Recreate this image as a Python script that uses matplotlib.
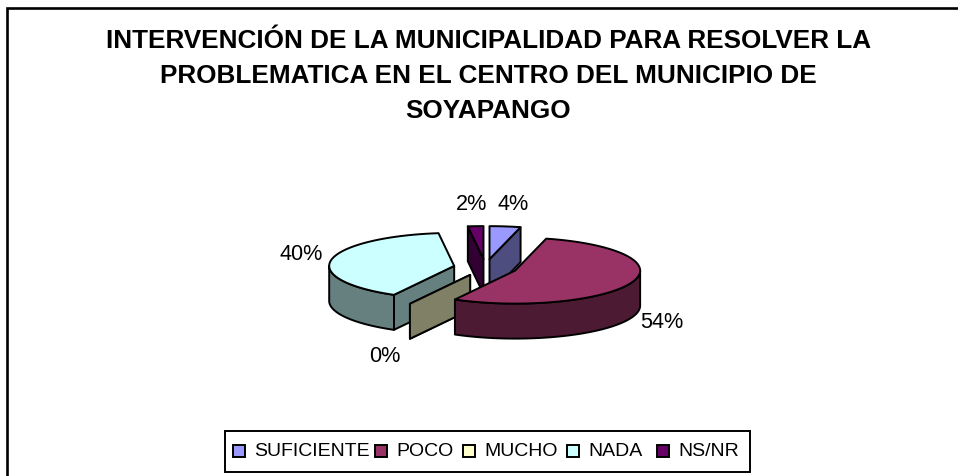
import numpy as np
import matplotlib
matplotlib.use("Agg")
import matplotlib.pyplot as plt
from matplotlib.patches import Polygon, Rectangle

plt.rcParams['font.family'] = ['Liberation Sans', 'DejaVu Sans']

title = "INTERVENCIÓN DE LA MUNICIPALIDAD PARA RESOLVER LA\nPROBLEMATICA EN EL CENTRO DEL MUNICIPIO DE\nSOYAPANGO"
categories = ["SUFICIENTE", "POCO", "MUCHO", "NADA", "NS/NR"]
values = [4, 54, 0, 40, 2]
colors = ["#9999FF", "#993366", "#FFFFCC", "#CCFFFF", "#660066"]
dark_colors = ["#4D4D80", "#4D1A33", "#808066", "#668080", "#330033"]

# pie geometry in pixels
cx, cy = 485.5, 267.5
rx, ry = 125, 33
depth = 35
explode = 0.255
label_pos = [(513, 205), (662, 323), (385, 356), (301, 255), (472, 205)]
legend_x = [233, 375, 463, 567, 657]


def pt(ang, r=1.0):
    a = np.radians(ang)
    return np.array([r * rx * np.sin(a), -r * ry * np.cos(a)])


def wall_shows(apex, ang, mid):
    # a wall hangs under its edge, so it is seen only if the top face is above that edge
    d = pt(ang)
    m = pt(mid)
    if abs(d[0]) < 1e-6 or ang == mid:
        return ang == mid
    return m[1] < d[1] / d[0] * m[0]


fig = plt.figure(figsize=(9.58, 4.76), dpi=100)
ax = fig.add_axes([0, 0, 1, 1])
ax.set_xlim(0, 958)
ax.set_ylim(476, 0)
ax.axis("off")

# only the top and left of the chart frame fall inside the picture
ax.plot([7, 7, 958], [476, 8, 8], color="black", lw=1.9, solid_joinstyle="miter")

ax.text(488.5, 76, title, ha="center", va="center", fontsize=18.8, fontweight="bold", linespacing=1.6)

# slice angles, clockwise from the top
edges = np.cumsum([0] + values) * 3.6
down = np.array([0, depth])
for i in [0, 4, 3, 2, 1]:
    a0, a1 = edges[i], edges[i + 1]
    mid = (a0 + a1) / 2
    apex = np.array([cx, cy]) + explode * pt(mid)
    for a in (a0, a1):
        if wall_shows(apex, a, mid):
            rim = apex + pt(a)
            ax.add_patch(Polygon([apex, rim, rim + down, apex + down], fc=dark_colors[i], ec="black", lw=1.4, joinstyle="round"))
    lo, hi = max(a0, 90), min(a1, 270)
    if hi > lo:
        arc = np.array([apex + pt(a) for a in np.linspace(lo, hi, 80)])
        ax.add_patch(Polygon(np.vstack([arc, arc[::-1] + down]), fc=dark_colors[i], ec="black", lw=1.4, joinstyle="round"))
    if a1 > a0:
        arc = np.array([apex + pt(a) for a in np.linspace(a0, a1, 80)])
        ax.add_patch(Polygon(np.vstack([[apex], arc]), fc=colors[i], ec="black", lw=1.4, joinstyle="round"))

for i in range(len(values)):
    ax.text(label_pos[i][0], label_pos[i][1], f"{values[i]}%", ha="center", va="center", fontsize=15.6)

# legend
ax.add_patch(Rectangle((225, 431), 525, 41, fc="white", ec="black", lw=1.4))
for name, c, x in zip(categories, colors, legend_x):
    ax.add_patch(Rectangle((x, 445), 12, 12, fc=c, ec="black", lw=1.4))
    ax.text(x + 21, 451.5, name, ha="left", va="center", fontsize=14)

fig.savefig("out.png", dpi=100)
